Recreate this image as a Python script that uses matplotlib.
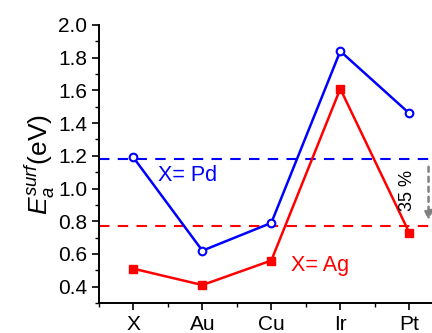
import matplotlib
matplotlib.use('Agg')
import matplotlib.pyplot as plt
from matplotlib.ticker import MultipleLocator

plt.rcParams['font.family'] = ['Liberation Sans', 'DejaVu Sans']
plt.rcParams['mathtext.fontset'] = 'custom'
plt.rcParams['mathtext.rm'] = 'Liberation Sans'
plt.rcParams['mathtext.it'] = 'Liberation Sans:italic'

metals = ['X', 'Au', 'Cu', 'Ir', 'Pt']
pd_vals = [1.19, 0.62, 0.79, 1.84, 1.46]
ag_vals = [0.51, 0.41, 0.56, 1.61, 0.73]
pd_ref = 1.18
ag_ref = 0.77

fig = plt.figure(figsize=(4.32, 3.33), dpi=100)
ax = fig.add_axes([0.229, 0.09, 0.771, 0.835])

xs = range(len(metals))
ax.plot(xs, pd_vals, color='blue', lw=1.8, marker='o', ms=5.5,
        mfc='white', mec='blue', mew=1.5, zorder=3)
ax.plot(xs, ag_vals, color='red', lw=1.8, marker='s', ms=5.5,
        mfc='red', mec='red', zorder=3)
ax.axhline(pd_ref, color='blue', ls=(0, (5, 4)), lw=1.5)
ax.axhline(ag_ref, color='red', ls=(0, (5, 4)), lw=1.5)

# arrow showing the drop
ax.annotate('', xy=(4.28, ag_ref + 0.02), xytext=(4.28, pd_ref - 0.03),
            arrowprops=dict(arrowstyle='-|>', color='gray', lw=1.8,
                            ls=(0, (2, 2)), mutation_scale=13))
ax.text(3.97, 0.99, '35 %', rotation=90, fontsize=13, ha='center', va='center')

ax.text(0.35, 1.08, 'X= Pd', color='blue', fontsize=15.5, va='center')
ax.text(2.28, 0.53, 'X= Ag', color='red', fontsize=15.5, va='center')

ax.set_xlim(-0.5, 4.33)
ax.set_ylim(0.3, 2.0)
ax.set_xticks(list(xs))
ax.set_xticklabels(metals)
ax.xaxis.set_minor_locator(MultipleLocator(0.5))
ax.yaxis.set_major_locator(MultipleLocator(0.2))
ax.yaxis.set_minor_locator(MultipleLocator(0.1))
ax.tick_params(axis='both', which='major', labelsize=15, direction='out',
               length=5, width=1.2)
ax.tick_params(axis='both', which='minor', direction='out', length=3, width=1)
ax.spines['top'].set_visible(False)
ax.spines['right'].set_visible(False)
ax.spines['left'].set_linewidth(1.4)
ax.spines['bottom'].set_linewidth(1.4)
ax.set_ylabel(r'$E_a^{surf}$(eV)', fontsize=19, labelpad=1)

fig.savefig('out.png', dpi=100, facecolor='white')
